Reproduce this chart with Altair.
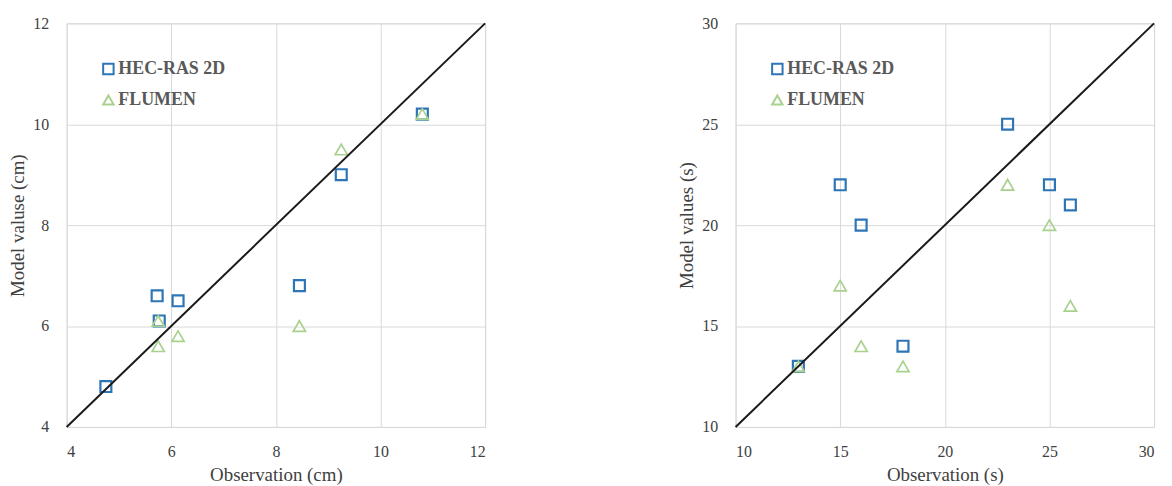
import altair as alt
import pandas as pd

series = ["HEC-RAS 2D", "FLUMEN"]
colors = ["#2E75B6", "#A9D18E"]

# Left panel: depth (cm)
d_hec_obs = [4.75, 5.73, 5.77, 6.13, 8.45, 9.25, 10.8]
d_hec_mod = [4.8, 6.6, 6.1, 6.5, 6.8, 9.0, 10.2]
d_flu_obs = [5.75, 5.75, 6.13, 8.45, 9.25, 10.8]
d_flu_mod = [6.1, 5.6, 5.8, 6.0, 9.5, 10.2]
d_ticks = [4, 6, 8, 10, 12]

# Right panel: time (s)
t_hec_obs = [13, 15, 16, 18, 23, 25, 26]
t_hec_mod = [13, 22, 20, 14, 25, 22, 21]
t_flu_obs = [13, 15, 16, 18, 23, 25, 26]
t_flu_mod = [13, 17, 14, 13, 22, 20, 16]
t_ticks = [10, 15, 20, 25, 30]

FONT = "Liberation Serif"


def frame(hobs, hmod, fobs, fmod):
    rows = [{"obs": a, "mod": b, "model": series[0]} for a, b in zip(hobs, hmod)]
    rows += [{"obs": a, "mod": b, "model": series[1]} for a, b in zip(fobs, fmod)]
    return pd.DataFrame(rows)


def panel(df, ticks, xtitle, ytitle):
    lo, hi = ticks[0], ticks[-1]
    xs = alt.X("obs:Q", title=xtitle,
               scale=alt.Scale(domain=[lo, hi], nice=False, zero=False),
               axis=alt.Axis(values=ticks))
    ys = alt.Y("mod:Q", title=ytitle,
               scale=alt.Scale(domain=[lo, hi], nice=False, zero=False),
               axis=alt.Axis(values=ticks))
    pts = alt.Chart(df).mark_point(filled=False, opacity=1).encode(
        x=xs,
        y=ys,
        color=alt.Color("model:N", scale=alt.Scale(domain=series, range=colors),
                        sort=series,
                        legend=alt.Legend(title=None, orient="none", legendX=33, legendY=37)),
        shape=alt.Shape("model:N", scale=alt.Scale(domain=series, range=["square", "triangle-up"]),
                        sort=series,
                        legend=alt.Legend(title=None, orient="none", legendX=33, legendY=37)),
        size=alt.Size("model:N", scale=alt.Scale(domain=series, range=[121, 150]), legend=None),
        strokeWidth=alt.StrokeWidth("model:N", scale=alt.Scale(domain=series, range=[2.2, 1.7]), legend=None),
        order=alt.Order("ord:Q"),
    ).transform_calculate(ord="datum.model == 'HEC-RAS 2D' ? 0 : 1")
    line_df = pd.DataFrame({"obs": [lo, hi], "mod": [lo, hi]})
    line = alt.Chart(line_df).mark_line(color="#1a1a1a", strokeWidth=2).encode(
        x="obs:Q", y="mod:Q")
    return alt.layer(pts, line).properties(width=421, height=406)


left = panel(frame(d_hec_obs, d_hec_mod, d_flu_obs, d_flu_mod), d_ticks,
             "Observation (cm)", "Model valuse (cm)")
right = panel(frame(t_hec_obs, t_hec_mod, t_flu_obs, t_flu_mod), t_ticks,
              "Observation (s)", "Model values (s)")

chart = alt.hconcat(left, right, spacing=188).resolve_scale(
    color="independent", shape="independent"
).resolve_legend(color="independent", shape="independent").properties(
    padding={"left": 0, "top": 5, "right": 5, "bottom": 0}
).configure_axis(
    labelFont=FONT, labelFontSize=16, labelColor="#404040",
    titleFont=FONT, titleFontSize=19, titleFontWeight="normal", titleColor="#404040",
    grid=True, gridColor="#d9d9d9", gridWidth=1,
    domain=False, ticks=False,
).configure_axisX(labelPadding=17, titlePadding=6).configure_axisY(
    labelPadding=18, titlePadding=5
).configure_legend(
    labelFont=FONT, labelFontSize=18, labelFontWeight="bold", labelColor="#595959",
    symbolSize=110, symbolStrokeWidth=2, rowPadding=12, labelOffset=1, padding=0,
).configure_view(stroke="#d9d9d9")

chart.save("out.html", embed_options={"renderer": "svg", "actions": False})
